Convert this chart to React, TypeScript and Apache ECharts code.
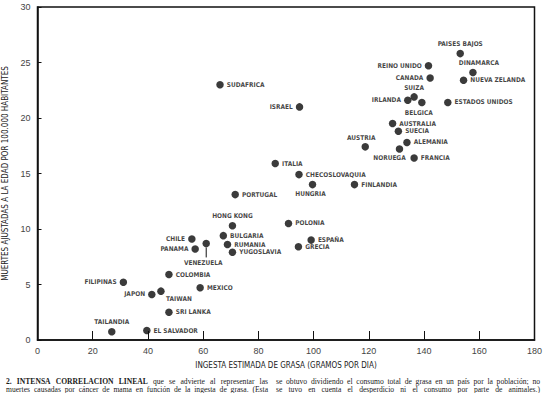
import React, { useEffect, useRef } from "react";
import * as echarts from "echarts";

const countries = [
  "SUDAFRICA", "ISRAEL", "PAISES BAJOS", "REINO UNIDO", "DINAMARCA", "CANADA",
  "NUEVA ZELANDA", "SUIZA", "IRLANDA", "BELGICA", "ESTADOS UNIDOS", "AUSTRALIA",
  "SUECIA", "ALEMANIA", "AUSTRIA", "NORUEGA", "FRANCIA", "ITALIA", "CHECOSLOVAQUIA",
  "HUNGRIA", "FINLANDIA", "PORTUGAL", "HONG KONG", "POLONIA", "ESPAÑA", "GRECIA",
  "BULGARIA", "RUMANIA", "YUGOSLAVIA", "CHILE", "PANAMA", "VENEZUELA", "COLOMBIA",
  "FILIPINAS", "MEXICO", "TAIWAN", "JAPON", "SRI LANKA", "TAILANDIA", "EL SALVADOR",
];
const fatIntake = [
  66.1, 94.9, 153.1, 141.6, 157.7, 142.2,
  154.3, 136.4, 134.1, 139.2, 148.6, 128.6,
  130.7, 133.8, 118.7, 131.1, 136.4, 86.1, 94.7,
  99.6, 114.8, 71.6, 70.6, 90.9, 99.1, 94.5,
  67.3, 68.8, 70.6, 55.9, 57.1, 61.1, 47.6,
  31.1, 58.9, 44.7, 41.4, 47.6, 26.9, 39.6,
];
const deaths = [
  23.0, 21.0, 25.8, 24.7, 24.1, 23.6,
  23.4, 21.9, 21.6, 21.4, 21.4, 19.5,
  18.8, 17.8, 17.4, 17.2, 16.4, 15.9, 14.9,
  14.0, 14.0, 13.1, 10.3, 10.5, 9.0, 8.4,
  9.4, 8.6, 7.9, 9.1, 8.2, 8.7, 5.9,
  5.2, 4.7, 4.4, 4.1, 2.5, 0.75, 0.85,
];
const xTicks = [0, 20, 40, 60, 80, 100, 120, 140, 160, 180];
const yTicks = [0, 5, 10, 15, 20, 25, 30];

const xTitle = "INGESTA ESTIMADA DE GRASA (GRAMOS POR DIA)";
const yTitle = "MUERTES AJUSTADAS A LA EDAD POR 100.000 HABITANTES";

const captionLeft = [
  "2. INTENSA CORRELACION LINEAL que se advierte al representar las",
  "muertes causadas por cáncer de mama en función de la ingesta de grasa. (Esta",
];
const captionRight = [
  "se obtuvo dividiendo el consumo total de grasa en un país por la población; no",
  "se tuvo en cuenta el desperdicio ni el consumo por parte de animales.)",
];
const boldWords = ["2.", "INTENSA", "CORRELACION", "LINEAL"];

// label placement (layout only)
const placement: Record<string, { p: string; d?: number; o?: number[] }> = {
  "ISRAEL": { p: "left" },
  "PAISES BAJOS": { p: "top", d: 2 },
  "REINO UNIDO": { p: "left" },
  "DINAMARCA": { p: "top", d: 2, o: [6, 0] },
  "CANADA": { p: "left" },
  "SUIZA": { p: "top", d: 2 },
  "IRLANDA": { p: "left" },
  "BELGICA": { p: "bottom", d: 3, o: [-3, 0] },
  "AUSTRIA": { p: "top", d: 2, o: [-4, 0] },
  "NORUEGA": { p: "bottom", d: 2, o: [-10, 0] },
  "HUNGRIA": { p: "bottom", d: 2, o: [-2, 0] },
  "HONG KONG": { p: "top", d: 2 },
  "CHILE": { p: "left" },
  "PANAMA": { p: "left" },
  "VENEZUELA": { p: "bottom", d: 12, o: [-3, 0] },
  "FILIPINAS": { p: "left" },
  "TAIWAN": { p: "bottom", d: 1, o: [18, 0] },
  "JAPON": { p: "left" },
  "TAILANDIA": { p: "top", d: 2 },
};

const LABEL_FONT = "'Liberation Sans Narrow', 'DejaVu Sans Condensed', 'Liberation Sans', sans-serif";
const SERIF = "'Liberation Serif', 'DejaVu Serif', serif";

function justify(line: string, x0: number, width: number, y: number, size: number) {
  const canvas = document.createElement("canvas");
  const ctx = canvas.getContext("2d")!;
  const words = line.split(" ");
  const fontFor = (w: string) =>
    `${boldWords.includes(w) && line.startsWith("2.") ? "bold" : "normal"} ${size}px 'Liberation Serif'`;
  const widths = words.map((w) => {
    ctx.font = fontFor(w);
    return ctx.measureText(w).width;
  });
  const total = widths.reduce((a, b) => a + b, 0);
  const gap = words.length > 1 ? (width - total) / (words.length - 1) : 0;
  let x = x0;
  return words.map((w, i) => {
    const el = {
      type: "text",
      x,
      y,
      style: {
        text: w,
        font: fontFor(w).replace("'Liberation Serif'", SERIF),
        fill: "#1a1a1a",
        verticalAlign: "middle",
        align: "left",
      },
    };
    x += widths[i] + gap;
    return el;
  });
}

export default function App() {
  const ref = useRef<HTMLDivElement>(null);
  useEffect(() => {
    const chart = echarts.init(ref.current!, null, { renderer: "svg" });
    const data = countries.map((c, i) => {
      const pl = placement[c] || { p: "right" };
      return {
        name: c,
        value: [fatIntake[i], deaths[i]],
        label: { position: pl.p, distance: pl.d ?? 3, offset: pl.o ?? [0, 0] },
      };
    });
    const vIdx = countries.indexOf("VENEZUELA");
    const graphics: any[] = [
      ...justify(captionLeft[0], 6, 262, 381, 7.6),
      ...justify(captionLeft[1], 6, 262, 389.5, 7.6),
      ...justify(captionRight[0], 276, 264, 381, 7.6),
      ...justify(captionRight[1], 276, 264, 389.5, 7.6),
    ];
    chart.setOption({
      animation: false,
      backgroundColor: "#ffffff",
      grid: {
        left: 37.5,
        top: 7,
        right: 8.5,
        bottom: 53,
        containLabel: false,
        outerBoundsMode: "none",
        show: true,
        borderColor: "#111",
        borderWidth: 1.5,
      },
      xAxis: {
        type: "value",
        min: 0,
        max: 180,
        interval: 20,
        name: xTitle,
        nameLocation: "middle",
        nameGap: 21,
        nameTextStyle: { fontFamily: LABEL_FONT, fontSize: 8, color: "#222" },
        axisLine: { show: true, lineStyle: { color: "#111", width: 1.5 } },
        axisTick: { show: true, inside: true, length: 9, lineStyle: { color: "#111", width: 1 } },
        axisLabel: { fontFamily: "'Liberation Sans', sans-serif", fontSize: 9, color: "#444", margin: 6,
          formatter: (v: number) => (xTicks.includes(v) ? String(v) : "") },
        splitLine: { show: false },
      },
      yAxis: {
        type: "value",
        min: 0,
        max: 30,
        interval: 5,
        name: yTitle,
        nameLocation: "middle",
        nameGap: 23,
        nameTextStyle: { fontFamily: LABEL_FONT, fontSize: 8, color: "#222" },
        axisLine: { show: true, lineStyle: { color: "#111", width: 1.5 } },
        axisTick: { show: true, inside: true, length: 4, lineStyle: { color: "#111", width: 1 } },
        axisLabel: { fontFamily: "'Liberation Sans', sans-serif", fontSize: 9, color: "#444", margin: 7,
          formatter: (v: number) => (yTicks.includes(v) ? String(v) : "") },
        splitLine: { show: false },
      },
      series: [
        {
          type: "scatter",
          symbol: "circle",
          symbolSize: 7.5,
          itemStyle: { color: "#0a0a0a" },
          data,
          label: {
            show: true,
            formatter: "{b}",
            fontFamily: LABEL_FONT,
            fontSize: 6.5,
            fontWeight: "bold",
            color: "#111",
          },
        },
        {
          type: "custom",
          data: [[fatIntake[vIdx], deaths[vIdx]]],
          renderItem: (params: any, api: any) => {
            const pt = api.coord([api.value(0), api.value(1)]);
            return {
              type: "line",
              shape: { x1: pt[0], y1: pt[1] + 4, x2: pt[0], y2: pt[1] + 14 },
              style: { stroke: "#111", lineWidth: 1 },
            };
          },
          silent: true,
        },
      ],
      graphic: graphics,
    });
    return () => chart.dispose();
  }, []);
  return <div ref={ref} style={{ width: 543, height: 393, position: "absolute", left: 0, top: 0 }} />;
}
